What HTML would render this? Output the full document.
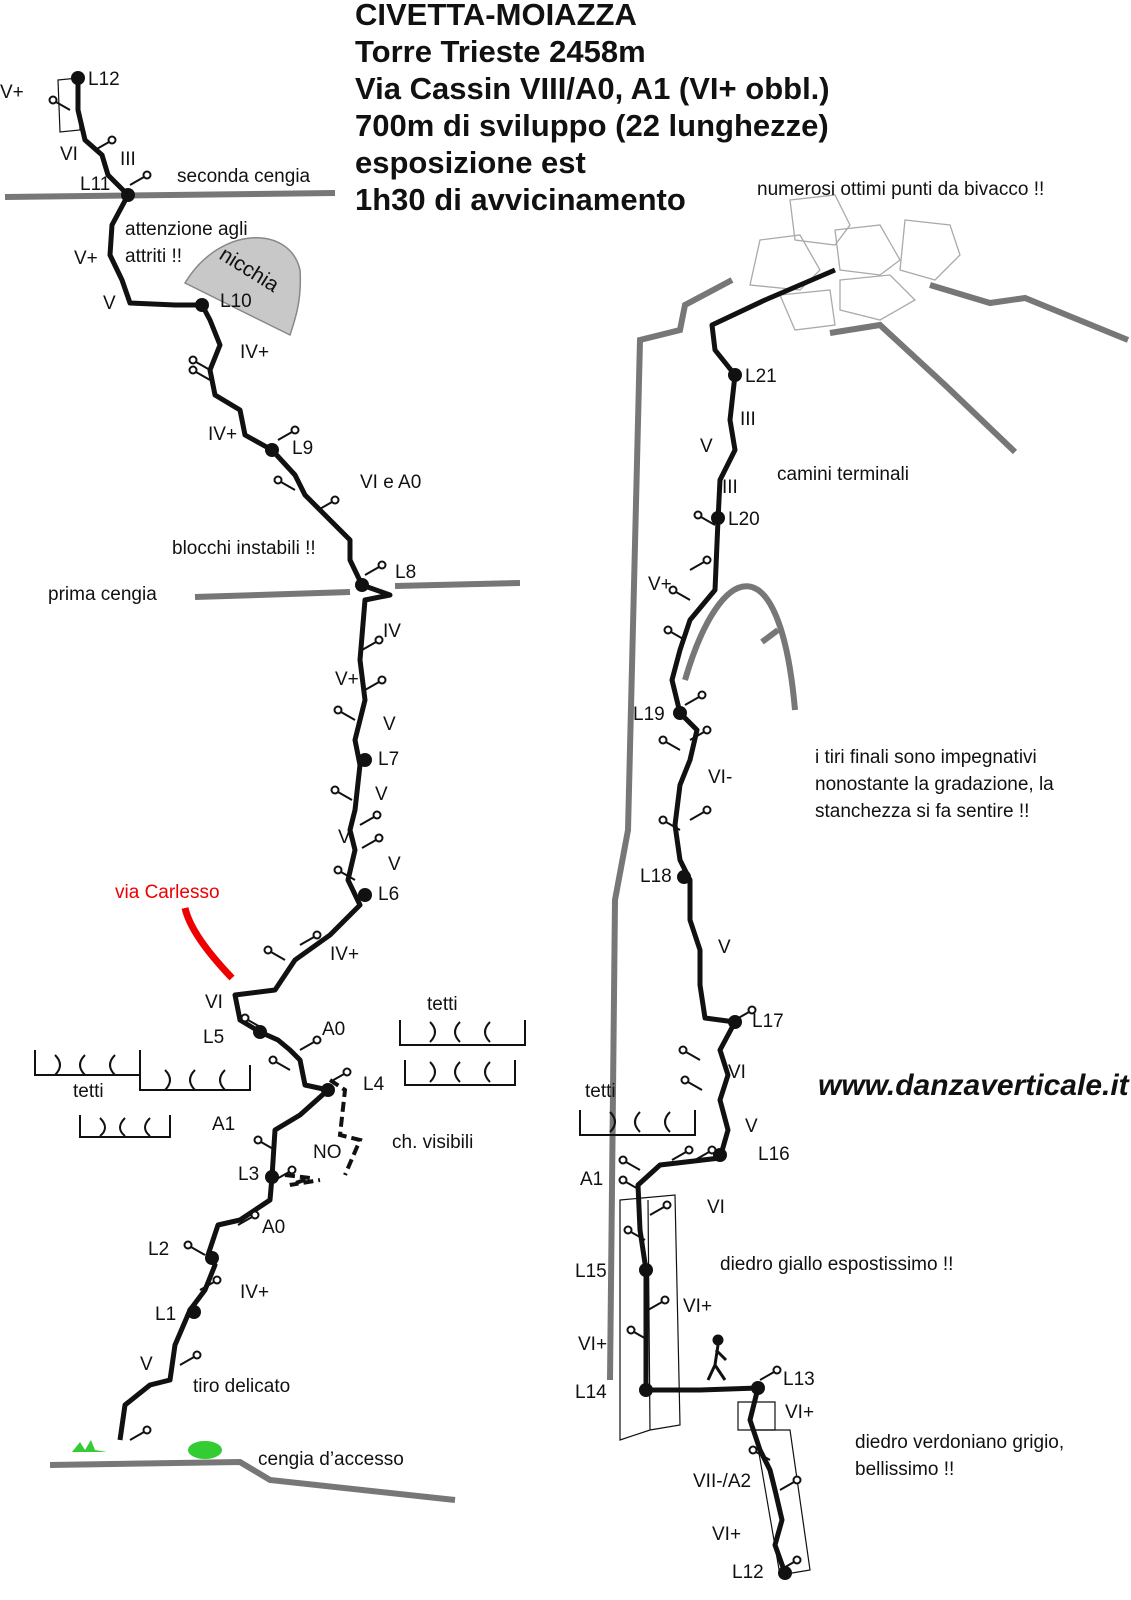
<!DOCTYPE html>
<html><head><meta charset="utf-8"><style>
html,body{margin:0;padding:0;background:#fff}
svg{display:block}
text{font-family:"Liberation Sans",sans-serif;font-size:19px;fill:#111}
.t{font-family:"Liberation Sans",sans-serif;font-size:31px;font-weight:bold}
</style></head><body>
<svg width="1131" height="1600" viewBox="0 0 1131 1600" xmlns="http://www.w3.org/2000/svg">
<defs>
<g id="p"><line x1="0" y1="0" x2="-14" y2="-8" stroke="#111" stroke-width="2"/><circle cx="-17" cy="-10" r="3.5" fill="#fff" stroke="#111" stroke-width="2"/></g>
<g id="q"><line x1="0" y1="0" x2="14" y2="-8" stroke="#111" stroke-width="2"/><circle cx="17" cy="-10" r="3.5" fill="#fff" stroke="#111" stroke-width="2"/></g>
</defs>
<text class="t" x="355" y="25">CIVETTA-MOIAZZA</text>
<text class="t" x="355" y="62">Torre Trieste 2458m</text>
<text class="t" x="355" y="99">Via Cassin VIII/A0, A1 (VI+ obbl.)</text>
<text class="t" x="355" y="136">700m di sviluppo (22 lunghezze)</text>
<text class="t" x="355" y="173">esposizione est</text>
<text class="t" x="355" y="210">1h30 di avvicinamento</text>
<text x="818" y="1095" style="font-size:30px;font-weight:bold;font-style:italic">www.danzaverticale.it</text>

<g stroke="#777" stroke-width="6" fill="none">
<path d="M5 197 L335 193"/>
<path d="M195 597 L350 592 M395 586 L520 583"/>
<path d="M50 1465 L240 1462 L270 1480 L455 1500"/>
<path d="M610 1380 L615 900 L628 830 L640 340 L680 330 L685 305 L732 280"/>
<path d="M930 285 L990 303 L1025 298 L1128 340"/>
<path d="M830 333 L880 325 L945 385 L1015 452"/>
<path d="M685 680 C720 560 780 540 795 710"/>
<path d="M762 642 L778 630"/>
</g>
<path d="M185 283 C220 225 290 225 300 270 C302 300 295 320 290 335 Z" fill="#c8c8c8" stroke="#888" stroke-width="1.5"/>
<text x="218" y="258" transform="rotate(32 218 258)" style="font-size:21px">nicchia</text>
<g fill="none" stroke="#aaa" stroke-width="1.3">
<path d="M790 200 L835 195 L850 225 L835 245 L795 240 Z"/>
<path d="M760 240 L800 235 L820 270 L800 290 L750 285 Z"/>
<path d="M835 230 L880 225 L900 260 L880 275 L840 270 Z"/>
<path d="M905 220 L950 225 L960 255 L935 280 L900 270 Z"/>
<path d="M840 280 L890 275 L915 300 L880 320 L840 310 Z"/>
<path d="M780 295 L830 290 L835 325 L795 330 Z"/>
</g>
<g fill="none" stroke="#111" stroke-width="1.2">
<path d="M620 1200 L675 1195 L680 1425 L650 1430 L620 1440 Z M648 1200 L650 1430"/>
<path d="M738 1402 L775 1402 L775 1430 L738 1430 Z"/>
<path d="M755 1430 L790 1430 L810 1570 L780 1575 Z"/>
<path d="M58 80 L78 78 L80 130 L60 132 Z"/>
</g>
<g fill="none" stroke="#111" stroke-width="2">
<path d="M35 1050 L35 1075 L140 1075 L140 1050 M55 1055 q10 10 0 20 M85 1055 q-10 10 0 20 M115 1055 q-10 10 0 20"/>
<path d="M140 1065 L140 1090 L250 1090 L250 1065 M165 1070 q10 10 0 20 M195 1070 q-10 10 0 20 M225 1070 q-10 10 0 20"/>
<path d="M80 1115 L80 1137 L170 1137 L170 1115 M100 1118 q10 10 0 18 M125 1118 q-10 10 0 18 M150 1118 q-10 10 0 18"/>
<path d="M400 1020 L400 1045 L525 1045 L525 1020 M430 1022 q10 10 0 20 M460 1022 q-10 10 0 20 M490 1022 q-10 10 0 20"/>
<path d="M405 1060 L405 1085 L515 1085 L515 1060 M430 1062 q10 10 0 20 M460 1062 q-10 10 0 20 M490 1062 q-10 10 0 20"/>
<path d="M580 1110 L580 1135 L695 1135 L695 1110 M610 1112 q10 10 0 20 M640 1112 q-10 10 0 20 M670 1112 q-10 10 0 20"/>
</g>
<path d="M185 908 C190 930 210 955 232 978" stroke="#e00" stroke-width="7" fill="none"/>
<path d="M330 1080 L345 1090 L340 1135 L360 1140 L345 1175 M285 1175 L310 1178 L290 1185 L320 1180" stroke="#111" stroke-width="4" stroke-dasharray="10 5" fill="none"/>
<path d="M120 1440 L125 1405 L150 1385 L170 1380 L175 1345 L190 1310 L205 1290 L215 1265 L208 1255 L218 1225 L240 1220 L270 1200 L272 1177 L275 1130 L300 1115 L328 1090 L305 1085 L300 1060 L290 1050 L278 1040 L260 1032 L240 1020 L235 995 L275 990 L295 960 L330 935 L360 905 L348 880 L355 850 L350 830 L355 810 L360 765 L355 740 L365 700 L360 660 L365 600 L390 595 L362 585 L350 560 L350 540 L330 520 L305 495 L295 475 L272 450 L245 435 L240 410 L215 395 L210 370 L220 345 L210 320 L202 305 L175 305 L130 303 L122 280 L110 255 L112 225 L128 195 L108 175 L102 155 L85 140 L78 110 L78 80" stroke="#111" stroke-width="5" fill="none" stroke-linejoin="round"/>
<path d="M785 1573 L775 1545 L782 1520 L775 1490 L770 1470 L760 1450 L750 1420 L758 1388 L700 1390 L646 1390 L646 1270 L640 1230 L638 1185 L660 1165 L720 1158 L728 1130 L720 1100 L728 1075 L720 1050 L735 1022 L705 1018 L700 985 L700 950 L690 920 L690 880 L680 860 L675 825 L680 785 L690 760 L697 730 L680 713 L672 680 L680 650 L690 620 L715 590 L718 520 L720 480 L735 450 L730 420 L735 375 L715 350 L712 325 L765 300 L835 270" stroke="#111" stroke-width="5" fill="none" stroke-linejoin="round"/>
<g fill="#111">
<circle cx="78" cy="78" r="7"/><circle cx="128" cy="195" r="7"/><circle cx="202" cy="305" r="7"/><circle cx="272" cy="450" r="7"/><circle cx="362" cy="585" r="7"/><circle cx="365" cy="760" r="7"/><circle cx="365" cy="895" r="7"/><circle cx="260" cy="1032" r="7"/><circle cx="328" cy="1090" r="7"/><circle cx="272" cy="1177" r="7"/><circle cx="212" cy="1258" r="7"/><circle cx="194" cy="1312" r="7"/>
<circle cx="785" cy="1573" r="7"/><circle cx="758" cy="1388" r="7"/><circle cx="646" cy="1390" r="7"/><circle cx="646" cy="1270" r="7"/><circle cx="720" cy="1155" r="7"/><circle cx="735" cy="1022" r="7"/><circle cx="684" cy="877" r="7"/><circle cx="680" cy="713" r="7"/><circle cx="718" cy="518" r="7"/><circle cx="735" cy="375" r="7"/>
</g>
<g>
<use href="#p" x="70" y="110"/><use href="#q" x="95" y="150"/><use href="#q" x="130" y="185"/><use href="#p" x="210" y="370"/><use href="#p" x="210" y="380"/><use href="#q" x="278" y="440"/><use href="#p" x="295" y="490"/><use href="#q" x="318" y="510"/><use href="#q" x="365" y="575"/><use href="#q" x="362" y="650"/><use href="#q" x="365" y="690"/><use href="#p" x="355" y="720"/><use href="#p" x="352" y="800"/><use href="#q" x="360" y="825"/><use href="#q" x="362" y="848"/><use href="#p" x="355" y="880"/><use href="#q" x="300" y="945"/><use href="#p" x="285" y="960"/><use href="#p" x="262" y="1028"/><use href="#q" x="300" y="1050"/><use href="#p" x="290" y="1070"/><use href="#q" x="330" y="1082"/><use href="#p" x="275" y="1150"/><use href="#q" x="275" y="1180"/><use href="#q" x="238" y="1225"/><use href="#p" x="205" y="1255"/><use href="#q" x="200" y="1290"/><use href="#q" x="180" y="1365"/><use href="#q" x="130" y="1440"/>
<use href="#q" x="780" y="1570"/><use href="#q" x="780" y="1490"/><use href="#p" x="770" y="1460"/><use href="#q" x="760" y="1380"/><use href="#p" x="648" y="1340"/><use href="#q" x="648" y="1310"/><use href="#p" x="645" y="1240"/><use href="#q" x="650" y="1215"/><use href="#p" x="640" y="1190"/><use href="#p" x="640" y="1170"/><use href="#q" x="672" y="1160"/><use href="#q" x="695" y="1160"/><use href="#p" x="702" y="1090"/><use href="#p" x="700" y="1060"/><use href="#q" x="735" y="1020"/><use href="#p" x="680" y="830"/><use href="#q" x="690" y="820"/><use href="#p" x="680" y="750"/><use href="#q" x="690" y="740"/><use href="#q" x="685" y="705"/><use href="#p" x="685" y="640"/><use href="#p" x="690" y="600"/><use href="#q" x="690" y="570"/><use href="#p" x="715" y="525"/>
</g>
<text x="88" y="85">L12</text><text x="0" y="98">V+</text><text x="60" y="160">VI</text><text x="120" y="165">III</text><text x="80" y="190">L11</text>
<text x="177" y="182">seconda cengia</text><text x="125" y="235">attenzione agli</text><text x="125" y="262">attriti !!</text><text x="74" y="264">V+</text><text x="103" y="309">V</text><text x="220" y="307">L10</text>
<text x="240" y="358">IV+</text><text x="208" y="440">IV+</text><text x="292" y="454">L9</text><text x="360" y="488">VI e A0</text><text x="172" y="554">blocchi instabili !!</text>
<text x="395" y="578">L8</text><text x="48" y="600">prima cengia</text><text x="383" y="637">IV</text><text x="335" y="685">V+</text><text x="383" y="730">V</text><text x="378" y="765">L7</text>
<text x="375" y="800">V</text><text x="338" y="843">V</text><text x="388" y="870">V</text><text x="378" y="900">L6</text><text x="115" y="898" style="fill:#e00">via Carlesso</text>
<text x="330" y="960">IV+</text><text x="205" y="1008">VI</text><text x="203" y="1043">L5</text><text x="322" y="1035">A0</text><text x="363" y="1090">L4</text>
<text x="427" y="1010">tetti</text><text x="73" y="1097">tetti</text><text x="212" y="1130">A1</text><text x="392" y="1148">ch. visibili</text><text x="313" y="1158">NO</text>
<text x="238" y="1180">L3</text><text x="262" y="1233">A0</text><text x="148" y="1255">L2</text><text x="240" y="1298">IV+</text><text x="155" y="1320">L1</text><text x="140" y="1370">V</text>
<text x="193" y="1392">tiro delicato</text><text x="258" y="1465">cengia d’accesso</text>
<path d="M72 1452 l8 -10 l5 8 l6 -10 l4 10 l12 2 z" fill="#3c3"/><ellipse cx="205" cy="1450" rx="17" ry="9" fill="#3c3"/>
<text x="757" y="195">numerosi ottimi punti da bivacco !!</text><text x="745" y="382">L21</text><text x="740" y="425">III</text><text x="700" y="452">V</text>
<text x="777" y="480">camini terminali</text><text x="722" y="493">III</text><text x="728" y="525">L20</text><text x="648" y="590">V+</text><text x="633" y="720">L19</text>
<text x="815" y="763">i tiri finali sono impegnativi</text><text x="815" y="790">nonostante la gradazione, la</text><text x="815" y="817">stanchezza si fa sentire !!</text>
<text x="708" y="783">VI-</text><text x="640" y="882">L18</text><text x="718" y="953">V</text><text x="752" y="1027">L17</text><text x="728" y="1078">VI</text>
<text x="585" y="1097">tetti</text><text x="745" y="1132">V</text><text x="758" y="1160">L16</text><text x="580" y="1185">A1</text><text x="707" y="1213">VI</text>
<text x="720" y="1270">diedro giallo espostissimo !!</text><text x="575" y="1277">L15</text><text x="683" y="1312">VI+</text><text x="578" y="1350">VI+</text>
<text x="575" y="1398">L14</text><text x="783" y="1385">L13</text><text x="785" y="1418">VI+</text><text x="855" y="1448">diedro verdoniano grigio,</text><text x="855" y="1475">bellissimo !!</text>
<text x="693" y="1487">VII-/A2</text><text x="712" y="1540">VI+</text><text x="732" y="1578">L12</text>
<g stroke="#111" stroke-width="3" fill="none"><circle cx="718" cy="1340" r="4" fill="#111"/><path d="M718 1345 L715 1365 L708 1380 M715 1365 L725 1380 M716 1350 L726 1360"/></g>
</svg>
</body></html>
